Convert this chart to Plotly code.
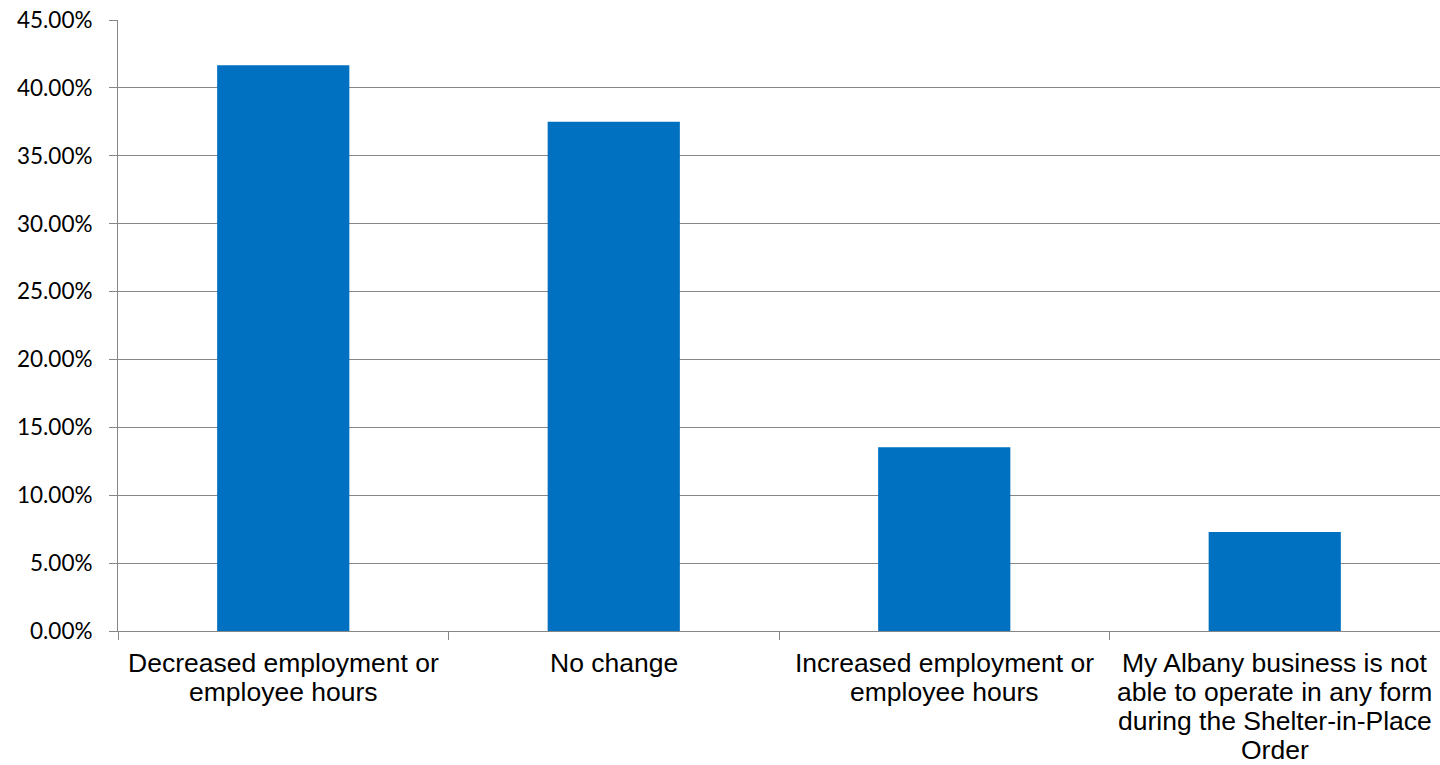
import plotly.graph_objects as go

categories = [
    "Decreased employment or employee hours",
    "No change",
    "Increased employment or employee hours",
    "My Albany business is not able to operate in any form during the Shelter-in-Place Order",
]
label_lines = [
    ["Decreased employment or", "employee hours"],
    ["No change"],
    ["Increased employment or", "employee hours"],
    ["My Albany business is not", "able to operate in any form", "during the Shelter-in-Place", "Order"],
]
values = [0.4167, 0.375, 0.1354, 0.0729]
y_ticks = [0, 0.05, 0.10, 0.15, 0.20, 0.25, 0.30, 0.35, 0.40, 0.45]
y_tick_text = ["0.00%", "5.00%", "10.00%", "15.00%", "20.00%", "25.00%", "30.00%", "35.00%", "40.00%", "45.00%"]

GRID = "#868686"

fig = go.Figure(go.Bar(
    x=categories,
    y=values,
    marker=dict(color="#0070C0", line=dict(width=0)),
))

annotations = []
for i, lines in enumerate(label_lines):
    for j, line in enumerate(lines):
        annotations.append(dict(
            x=i, xref="x", y=0, yref="paper",
            text=line, showarrow=False,
            xanchor="center", yanchor="middle",
            yshift=-31.5 - 29.3 * j,
            font=dict(family="Liberation Sans, Arial, sans-serif", size=26.5, color="#000000"),
        ))

fig.update_layout(
    width=1440, height=765,
    margin=dict(l=118, r=0, t=20, b=134),
    paper_bgcolor="white", plot_bgcolor="white",
    bargap=0.6,
    showlegend=False,
    annotations=annotations,
    xaxis=dict(
        type="category",
        range=[-0.5, 3.5],
        showticklabels=False,
        tickson="boundaries", ticks="outside", ticklen=8, tickcolor=GRID, tickwidth=1,
        showgrid=False, showline=True, linecolor=GRID, linewidth=1,
        zeroline=False,
    ),
    yaxis=dict(
        range=[0, 0.45],
        tickmode="array", tickvals=y_ticks, ticktext=y_tick_text,
        ticks="outside", ticklen=8, tickcolor=GRID, tickwidth=1,
        ticklabelstandoff=12,
        showgrid=True, gridcolor=GRID, gridwidth=1,
        showline=True, linecolor=GRID, linewidth=1,
        zeroline=False,
        tickfont=dict(family="Lato, sans-serif", size=22.5, color="#000000"),
    ),
)

fig.write_html("out.html")
